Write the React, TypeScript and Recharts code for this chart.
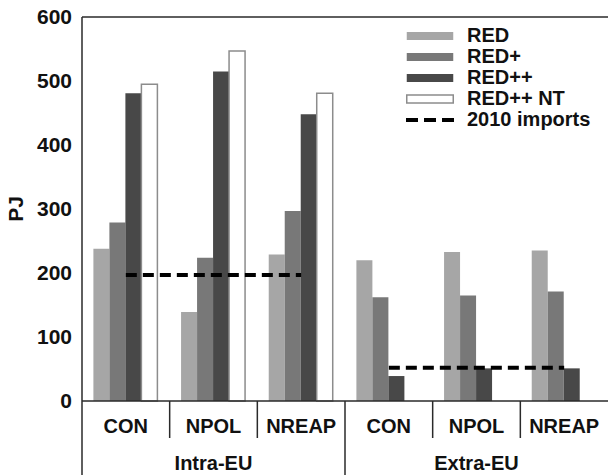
import React from 'react';
import { ComposedChart, Bar, Line, XAxis, YAxis, ReferenceLine } from 'recharts';

const categories = ['CON', 'NPOL', 'NREAP', 'CON', 'NPOL', 'NREAP'];
const groups = ['Intra-EU', 'Intra-EU', 'Intra-EU', 'Extra-EU', 'Extra-EU', 'Extra-EU'];
const red = [238, 139, 229, 220, 233, 235];
const redPlus = [279, 224, 297, 162, 165, 171];
const redPlusPlus = [481, 515, 448, 39, 51, 51];
const redPlusPlusNT = [495, 547, 481, null, null, null];
const importsIntra = [197, 197, 197, null, null, null];
const importsExtra = [null, null, null, 52, 52, 52];
const yTicks = [0, 100, 200, 300, 400, 500, 600];

const data = categories.map((name, i) => ({
  name,
  group: groups[i],
  red: red[i],
  redPlus: redPlus[i],
  redPlusPlus: redPlusPlus[i],
  redPlusPlusNT: redPlusPlusNT[i],
  importsIntra: importsIntra[i],
  importsExtra: importsExtra[i],
}));

const FONT = '"Liberation Sans", Arial, sans-serif';
const AXIS = '#2a2a2a';

const legendItems = [
  { label: 'RED', fill: '#a6a6a6', stroke: 'none' },
  { label: 'RED+', fill: '#787878', stroke: 'none' },
  { label: 'RED++', fill: '#484848', stroke: 'none' },
  { label: 'RED++ NT', fill: '#ffffff', stroke: '#8c8c8c' },
  { label: '2010 imports', dashed: true },
];

const CategoryTick = (props: any) => {
  const { x, y, payload, index } = props;
  const half = payload && payload.offset ? payload.offset : 526 / 12;
  const sepX = x - half;
  const long = index === 0 || index === 3;
  return (
    <g>
      <line x1={sepX} x2={sepX} y1={y} y2={y + (long ? 74 : 37)} stroke={AXIS} strokeWidth={1.5} />
      <text x={x} y={y + 32} textAnchor="middle" fontFamily={FONT} fontWeight="bold" fontSize={20} fill="#111">
        {payload.value}
      </text>
    </g>
  );
};

const GroupTick = (props: any) => {
  const { x, y, payload } = props;
  return (
    <text x={x} y={y + 21} textAnchor="middle" fontFamily={FONT} fontWeight="bold" fontSize={20} fill="#111">
      {payload.value}
    </text>
  );
};

const LegendBox = () => (
  <div
    style={{
      position: 'absolute',
      top: 25,
      left: 406,
      fontFamily: FONT,
      fontWeight: 'bold',
      fontSize: 20,
      color: '#111',
    }}
  >
    {legendItems.map((it) => (
      <div key={it.label} style={{ display: 'flex', alignItems: 'center', height: 21 }}>
        <svg width={48} height={12} style={{ marginRight: 13 }}>
          {it.dashed ? (
            <line x1={0} x2={48} y1={6} y2={6} stroke="#000" strokeWidth={4} strokeDasharray="12 6" />
          ) : (
            <rect x={0.75} y={2} width={46.5} height={8} fill={it.fill} stroke={it.stroke} strokeWidth={1.5} />
          )}
        </svg>
        <span style={{ lineHeight: '21px', whiteSpace: 'nowrap' }}>{it.label}</span>
      </div>
    ))}
  </div>
);

export default function App() {
  return (
    <div style={{ position: 'absolute', left: 0, top: 0, width: 608, height: 475, background: '#fff' }}>
      <ComposedChart
        width={608}
        height={475}
        data={data}
        margin={{ top: 17, right: 0, bottom: 0, left: 0 }}
        barCategoryGap="13%"
        barGap={0}
      >
        <XAxis
          xAxisId={0}
          dataKey="name"
          height={48}
          tickLine={false}
          tickSize={0}
          tickMargin={0}
          interval={0}
          axisLine={{ stroke: AXIS, strokeWidth: 1.5 }}
          tick={<CategoryTick />}
        />
        <XAxis
          xAxisId="group"
          dataKey="group"
          allowDuplicatedCategory={false}
          height={26}
          tickLine={false}
          tickSize={0}
          tickMargin={0}
          axisLine={false}
          interval={0}
          tick={<GroupTick />}
        />
        <YAxis
          width={82}
          domain={[0, 600]}
          ticks={yTicks}
          tickLine={false}
          tickSize={0}
          tickMargin={10}
          axisLine={{ stroke: AXIS, strokeWidth: 1.5 }}
          tick={{ fontFamily: FONT, fontWeight: 'bold', fontSize: 21, fill: '#111' }}
          label={{
            content: (p: any) => {
              const vb = p.viewBox || { x: 0, y: 17, height: 384 };
              const cx = vb.x + 23;
              const cy = vb.y + vb.height / 2;
              return (
                <text
                  x={cx}
                  y={cy}
                  transform={`rotate(-90, ${cx}, ${cy})`}
                  textAnchor="middle"
                  fontFamily={FONT}
                  fontWeight="bold"
                  fontSize={21}
                  fill="#111"
                >
                  PJ
                </text>
              );
            },
          }}
        />
        <ReferenceLine y={600} stroke={AXIS} strokeWidth={1.5} />
        <Bar dataKey="red" name="RED" fill="#a6a6a6" isAnimationActive={false} />
        <Bar dataKey="redPlus" name="RED+" fill="#787878" isAnimationActive={false} />
        <Bar dataKey="redPlusPlus" name="RED++" fill="#484848" isAnimationActive={false} />
        <Bar
          dataKey="redPlusPlusNT"
          name="RED++ NT"
          fill="#ffffff"
          stroke="#8c8c8c"
          strokeWidth={1.5}
          isAnimationActive={false}
        />
        <Line
          dataKey="importsIntra"
          name="2010 imports"
          type="linear"
          stroke="#000"
          strokeWidth={4}
          strokeDasharray="11 6"
          dot={false}
          activeDot={false}
          isAnimationActive={false}
        />
        <Line
          dataKey="importsExtra"
          name="2010 imports"
          type="linear"
          stroke="#000"
          strokeWidth={4}
          strokeDasharray="11 6"
          dot={false}
          activeDot={false}
          isAnimationActive={false}
        />
      </ComposedChart>
      <LegendBox />
    </div>
  );
}
